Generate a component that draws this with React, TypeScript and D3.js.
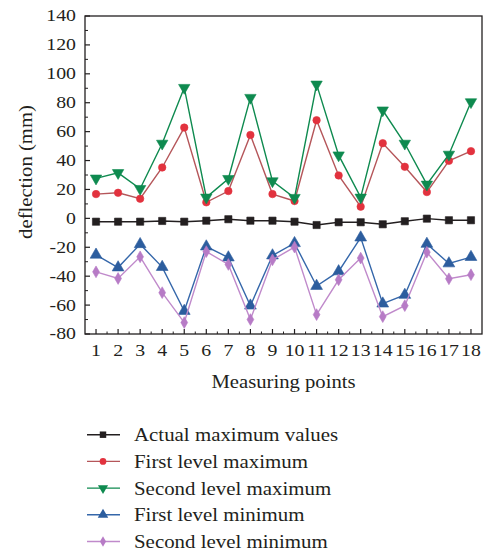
import React from 'react'
import * as d3 from 'd3'

// measuring points 1..18
const points = d3.range(1, 19)

const actualMax = [-2.3, -2.3, -2.3, -1.8, -2.3, -1.6, -0.6, -1.6, -1.6, -2.3, -4.6, -2.7, -2.7, -4.1, -2.0, -0.2, -1.3, -1.3]
const firstMax = [16.8, 17.7, 13.6, 35.2, 62.8, 11.1, 18.9, 57.7, 16.8, 12, 67.9, 29.7, 8.1, 52, 35.7, 18.2, 39.8, 46.5]
const secondMax = [27.7, 31.5, 20.5, 51.8, 90.4, 14.5, 27.4, 83.5, 25.8, 14.3, 92.7, 43.7, 14.5, 74.8, 51.8, 23.5, 44.2, 80.5]
const firstMin = [-25.2, -34, -17.9, -33.7, -64.1, -19.5, -27.1, -60.4, -25.7, -17.2, -46.8, -36.7, -13.3, -59, -53, -17.7, -31.2, -26.8]
const secondMin = [-37, -41.6, -26.6, -51.4, -72.1, -23, -31.9, -70, -28.7, -19.9, -66.6, -42.5, -27.5, -68, -60.4, -23.4, -41.8, -39]

const yTicks = [-80, -60, -40, -20, 0, 20, 40, 60, 80, 100, 120, 140]

const series = [
  {name: 'Actual maximum values', values: actualMax, line: '#231f20', fill: '#231f20', symbol: d3.symbolSquare, size: 52, rot: 0},
  {name: 'First level maximum', values: firstMax, line: '#b5565a', fill: '#e2323e', symbol: d3.symbolCircle, size: 44, rot: 0},
  {name: 'Second level maximum', values: secondMax, line: '#0e8a4f', fill: '#0e8a4f', symbol: d3.symbolTriangle, size: 56, rot: 180},
  {name: 'First level minimum', values: firstMin, line: '#3567aa', fill: '#2c5d9e', symbol: d3.symbolTriangle, size: 60, rot: 0},
  {name: 'Second level minimum', values: secondMin, line: '#c08acb', fill: '#b77bc6', symbol: d3.symbolDiamond, size: 40, rot: 0}
]

const FONT = '"Liberation Serif", "DejaVu Serif", serif'
const TXT = '#231f20'

// the source figure is slightly stretched horizontally, so text gets a scaleX
function SText({x, y, sx = 1.18, anchor = 'start', size = 17, rotate = 0, children}: any) {
  return (
    <g transform={`translate(${x},${y}) rotate(${rotate}) scale(${sx},1)`}>
      <text textAnchor={anchor} dominantBaseline="central" fontFamily={FONT} fontSize={size} fill={TXT}>
        {children}
      </text>
    </g>
  )
}

export default function App() {
  const width = 485
  const height = 552
  const left = 85
  const right = 482
  const top = 16
  const bottom = 334

  const x = d3.scaleLinear().domain([0.5, 18.5]).range([left, right])
  const y = d3.scaleLinear().domain([-80, 140]).range([bottom, top])

  const line = d3
    .line<number>()
    .x((d, i) => x(points[i]))
    .y(d => y(d))

  const minorY = d3.range(-70, 140, 20)
  const minorX = d3.range(1.5, 18.5, 1)

  return (
    <svg width={width} height={height} style={{position: 'absolute', left: 0, top: 0}}>
      {/* frame */}
      <rect x={left} y={top} width={right - left} height={bottom - top} fill="none" stroke="#231f20" strokeWidth={1.3} />

      {/* y ticks (inward) */}
      {yTicks.map(t => (
        <g key={'y' + t}>
          <line x1={left} x2={left + 5} y1={y(t)} y2={y(t)} stroke="#231f20" strokeWidth={1.2} />
          <SText x={left - 9} y={y(t)} anchor="end" size={16.5} sx={1.2}>
            {t}
          </SText>
        </g>
      ))}
      {minorY.map(t => (
        <line key={'my' + t} x1={left} x2={left + 3} y1={y(t)} y2={y(t)} stroke="#231f20" strokeWidth={1} />
      ))}

      {/* x ticks (inward) */}
      {points.map(p => (
        <g key={'x' + p}>
          <line x1={x(p)} x2={x(p)} y1={bottom} y2={bottom - 5} stroke="#231f20" strokeWidth={1.2} />
          <SText x={x(p)} y={351} anchor="middle" size={16.5} sx={1.2}>
            {p}
          </SText>
        </g>
      ))}
      {minorX.map(t => (
        <line key={'mx' + t} x1={x(t)} x2={x(t)} y1={bottom} y2={bottom - 2.5} stroke="#231f20" strokeWidth={1} />
      ))}

      {/* axis titles */}
      <SText x={(left + right) / 2} y={382} anchor="middle" size={18} sx={1.15}>
        Measuring points
      </SText>
      <SText x={26} y={(top + bottom) / 2 - 3} anchor="middle" size={18} sx={1.15} rotate={-90}>
        deflection (mm)
      </SText>

      {/* series */}
      {series.map(s => (
        <g key={s.name}>
          <path d={line(s.values) || ''} fill="none" stroke={s.line} strokeWidth={1.4} />
          {s.values.map((v, i) => (
            <path
              key={i}
              d={d3.symbol().type(s.symbol).size(s.size)() || ''}
              transform={`translate(${x(points[i])},${y(v)}) rotate(${s.rot})`}
              fill={s.fill}
              stroke={s.fill}
              strokeWidth={0.6}
            />
          ))}
        </g>
      ))}

      {/* legend */}
      {series.map((s, i) => {
        const ly = 434.7 + i * 26.7
        return (
          <g key={'lg' + s.name}>
            <line x1={87} x2={120} y1={ly} y2={ly} stroke={s.line} strokeWidth={1.4} />
            <path
              d={d3.symbol().type(s.symbol).size(s.size * 0.8)() || ''}
              transform={`translate(103,${ly}) rotate(${s.rot})`}
              fill={s.fill}
            />
            <SText x={134} y={ly} size={18.5} sx={1.13}>
              {s.name}
            </SText>
          </g>
        )
      })}
    </svg>
  )
}
